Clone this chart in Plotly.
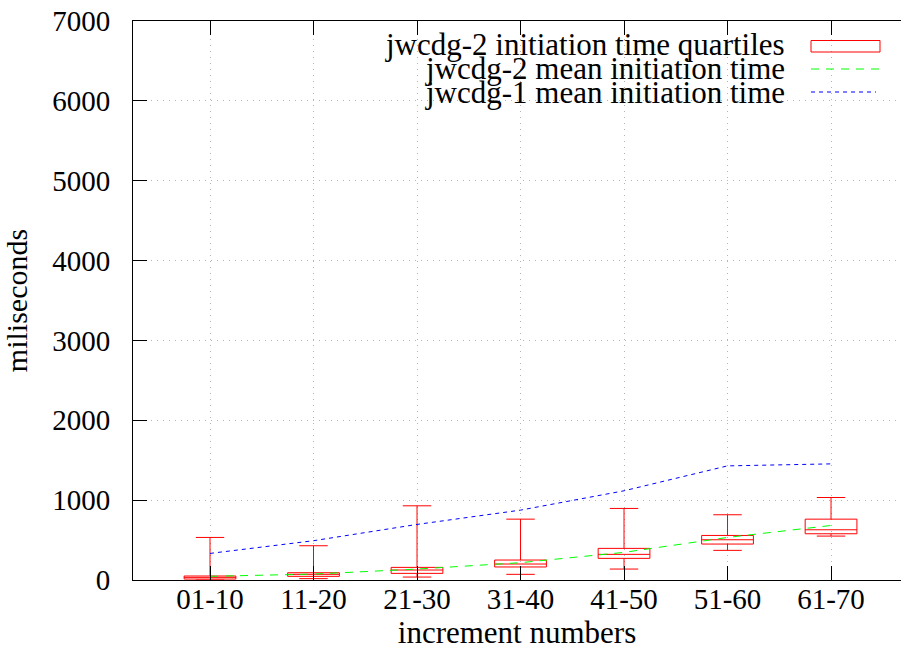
import plotly.graph_objects as go

# ---- data ----
categories = ["01-10", "11-20", "21-30", "31-40", "41-50", "51-60", "61-70"]
positions = [1, 2, 3, 4, 5, 6, 7]
q1_vals = [12, 46, 83, 163, 271, 450, 579]
median_vals = [33, 71, 125, 200, 321, 504, 629]
q3_vals = [50, 91, 158, 250, 396, 558, 762]
low_vals = [0, 17, 37, 71, 137, 371, 550]
high_vals = [533, 429, 929, 762, 896, 817, 1033]
mean_jwcdg2 = [46, 74, 137, 217, 346, 533, 683]
mean_jwcdg1 = [333, 492, 696, 875, 1117, 1429, 1454]
y_ticks = [0, 1000, 2000, 3000, 4000, 5000, 6000, 7000]
legend_labels = ["jwcdg-2 initiation time quartiles",
                 "jwcdg-2 mean initiation time",
                 "jwcdg-1 mean initiation time"]

FONT = "'Liberation Serif', 'Times New Roman', Times, serif"
FS_TICK = 29
FS_KEY = 31
FS_XT = 31
FS_YT = 30
W, H = 901, 653
L, R, T, B = 133, 0, 21, 73
PL, PR, PT, PB = L, W - R, T, H - B


def px2x(px):
    return (px - PL) / (PR - PL)


def px2y(py):
    return (PB - py) / (PB - PT)


fig = go.Figure()

fig.add_trace(go.Box(
    x=positions, q1=q1_vals, median=median_vals, q3=q3_vals,
    lowerfence=low_vals, upperfence=high_vals,
    width=0.5, whiskerwidth=0.55,
    line=dict(color="#ff0000", width=1),
    fillcolor="rgba(0,0,0,0)",
    boxpoints=False, showlegend=False, hoverinfo="skip",
))

fig.add_trace(go.Scatter(
    x=positions, y=mean_jwcdg2, mode="lines",
    line=dict(color="#00ff00", width=1, dash="8px,7px"),
    showlegend=False, hoverinfo="skip",
))
fig.add_trace(go.Scatter(
    x=positions, y=mean_jwcdg1, mode="lines",
    line=dict(color="#0000ff", width=1, dash="4px,4px"),
    showlegend=False, hoverinfo="skip",
))

shapes = []
# opaque key area
shapes.append(dict(type="rect", xref="paper", yref="paper",
                   x0=px2x(338), x1=1.0, y0=px2y(105), y1=1.0,
                   fillcolor="white", line=dict(width=0), layer="between"))
# key samples
shapes.append(dict(type="rect", xref="paper", yref="paper",
                   x0=px2x(811), x1=px2x(880), y0=px2y(52), y1=px2y(40.5),
                   line=dict(color="#ff0000", width=1), fillcolor="rgba(0,0,0,0)"))
shapes.append(dict(type="line", xref="paper", yref="paper",
                   x0=px2x(811), x1=px2x(880), y0=px2y(69), y1=px2y(69),
                   line=dict(color="#00ff00", width=1, dash="8px,7px")))
shapes.append(dict(type="line", xref="paper", yref="paper",
                   x0=px2x(811), x1=px2x(876), y0=px2y(92), y1=px2y(92),
                   line=dict(color="#0000ff", width=1, dash="4px,4px")))

annotations = []
for lab, yy in zip(legend_labels, [45, 68.5, 92]):
    annotations.append(dict(text=lab, xref="paper", yref="paper",
                            x=px2x(787), y=px2y(yy), xanchor="right", yanchor="middle",
                            showarrow=False, font=dict(family=FONT, size=FS_KEY, color="black")))

fig.update_layout(
    width=W, height=H,
    margin=dict(l=L, r=R, t=T, b=B, pad=0),
    plot_bgcolor="white", paper_bgcolor="white",
    font=dict(family=FONT, size=FS_TICK, color="black"),
    shapes=shapes, annotations=annotations,
    showlegend=False,
    xaxis=dict(
        range=[0.256, 7.676], tickvals=positions, ticktext=categories,
        ticks="inside", ticklen=14, tickcolor="black", tickwidth=1,
        showline=True, linecolor="black", linewidth=1, mirror="ticks",
        showgrid=True, gridcolor="#b4b4b4", griddash="1px,5px", gridwidth=1,
        zeroline=False, ticklabelstandoff=-7,
        tickfont=dict(family=FONT, size=FS_TICK),
        title=dict(text="increment numbers", standoff=6,
                   font=dict(family=FONT, size=FS_XT)),
    ),
    yaxis=dict(
        range=[0, 7000], tickvals=y_ticks,
        ticks="inside", ticklen=14, tickcolor="black", tickwidth=1,
        showline=True, linecolor="black", linewidth=1,
        showgrid=True, gridcolor="#b4b4b4", griddash="1px,5px", gridwidth=1,
        zeroline=False, ticklabelstandoff=16,
        tickfont=dict(family=FONT, size=FS_TICK),
        title=dict(text="miliseconds", standoff=19,
                   font=dict(family=FONT, size=FS_YT)),
    ),
)

fig.write_html("out.html")
